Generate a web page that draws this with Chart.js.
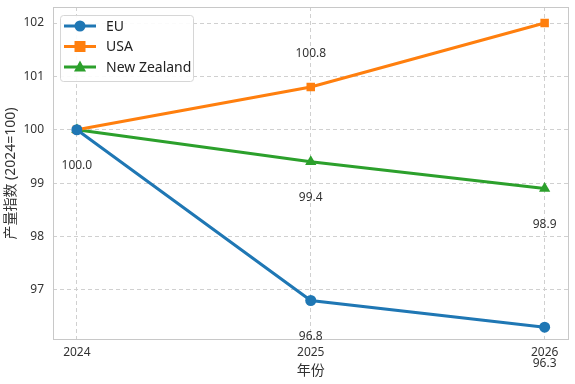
<!DOCTYPE html>
<html>
<head>
<meta charset="utf-8">
<script src="https://cdn.jsdelivr.net/npm/chart.js@4"></script>
<style>
  html, body { margin: 0; padding: 0; background: #ffffff; }
  #wrap { width: 575px; height: 384px; }
</style>
</head>
<body>
<div id="wrap"><canvas id="grafico" width="575" height="384"></canvas></div>
<script>
// datos
const years = [2024, 2025, 2026];
const euValues = [100.0, 96.8, 96.3];
const usaValues = [100.0, 100.8, 102.0];
const nzValues = [100.0, 99.4, 98.9];
const yTicks = [97, 98, 99, 100, 101, 102];

const FONT = "'Noto Sans', 'Noto Sans CJK SC', sans-serif";

function toPoints(vals) {
    return years.map((y, i) => ({ x: y, y: vals[i] }));
}

// etiquetas de valor: [serie, indice, arriba(-1)/abajo(+1)]
const valueLabels = [
    [0, 0, 1], [0, 1, 1], [0, 2, 1],
    [1, 1, -1],
    [2, 1, 1], [2, 2, 1]
];

const extras = {
    id: "extras",
    afterDraw(chart) {
        const ctx = chart.ctx;
        const a = chart.chartArea;
        const xs = chart.scales.x, ys = chart.scales.y;
        ctx.save();
        // marco
        ctx.strokeStyle = "#c8c8c8";
        ctx.lineWidth = 1;
        ctx.strokeRect(Math.round(a.left) + 0.5, Math.round(a.top) + 0.5,
            Math.round(a.right - a.left) - 1, Math.round(a.bottom - a.top) - 1);

        // etiquetas
        ctx.fillStyle = "#333333";
        ctx.font = "12px " + FONT;
        ctx.textAlign = "center";
        ctx.textBaseline = "middle";
        valueLabels.forEach(([d, i, dir]) => {
            const v = chart.data.datasets[d].data[i];
            const px = xs.getPixelForValue(v.x);
            const py = ys.getPixelForValue(v.y) + (dir > 0 ? 36 : -33);
            ctx.fillText(v.y.toFixed(1), px, py);
        });

        // leyenda
        const lx = a.left + 7, ly = a.top + 8, lw = 133, lh = 66;
        ctx.fillStyle = "rgba(255,255,255,0.9)";
        ctx.strokeStyle = "#d6d6d6";
        ctx.beginPath();
        ctx.roundRect(lx + 0.5, ly + 0.5, lw, lh, 3);
        ctx.fill();
        ctx.stroke();
        ctx.font = "14px " + FONT;
        ctx.textAlign = "left";
        chart.data.datasets.forEach((ds, k) => {
            const cy = ly + 11 + k * 20.5;
            const x0 = lx + 4, x1 = lx + 36;
            ctx.strokeStyle = ds.borderColor;
            ctx.lineWidth = 3;
            ctx.beginPath();
            ctx.moveTo(x0, cy);
            ctx.lineTo(x1, cy);
            ctx.stroke();
            ctx.fillStyle = ds.backgroundColor;
            const mx = (x0 + x1) / 2;
            ctx.beginPath();
            if (ds.pointStyle === "circle") {
                ctx.arc(mx, cy, 5.5, 0, Math.PI * 2);
            } else if (ds.pointStyle === "rect") {
                ctx.rect(mx - 5.5, cy - 5.5, 11, 11);
            } else {
                ctx.moveTo(mx, cy - 6.5);
                ctx.lineTo(mx + 6, cy + 4.5);
                ctx.lineTo(mx - 6, cy + 4.5);
                ctx.closePath();
            }
            ctx.fill();
            ctx.fillStyle = "#222222";
            ctx.fillText(ds.label, lx + 46, cy + 1);
        });
        ctx.restore();
    }
};

const config = {
    type: "line",
    data: {
        datasets: [
            {
                label: "EU",
                data: toPoints(euValues),
                borderColor: "#1f77b4",
                backgroundColor: "#1f77b4",
                pointStyle: "circle",
                pointRadius: 5.5
            },
            {
                label: "USA",
                data: toPoints(usaValues),
                borderColor: "#ff7f0e",
                backgroundColor: "#ff7f0e",
                pointStyle: "rect",
                pointRadius: 6
            },
            {
                label: "New Zealand",
                data: toPoints(nzValues),
                borderColor: "#2ca02c",
                backgroundColor: "#2ca02c",
                pointStyle: "triangle",
                pointRadius: 6.5
            }
        ]
    },
    options: {
        responsive: false,
        animation: false,
        layout: { padding: { left: 0, right: 4, top: 7, bottom: 0 } },
        elements: {
            line: { borderWidth: 3, tension: 0 },
            point: { borderWidth: 0, hoverRadius: 6 }
        },
        scales: {
            x: {
                type: "linear",
                min: 2023.898,
                max: 2026.102,
                afterBuildTicks: (s) => { s.ticks = years.map(v => ({ value: v })); },
                afterFit: (s) => { s.height = 44; s.paddingLeft = 0; s.paddingRight = 0; },
                grid: { color: "#d0d0d0", drawTicks: false },
                border: { display: false, dash: [4, 3] },
                ticks: {
                    padding: 5,
                    color: "#333333",
                    font: { family: FONT, size: 12 },
                    callback: (v) => String(v)
                },
                title: {
                    display: true,
                    text: "年份",
                    color: "#333333",
                    padding: { top: 0, bottom: 5 },
                    font: { family: FONT, size: 14 }
                }
            },
            y: {
                min: 96.06,
                max: 102.3,
                afterBuildTicks: (s) => { s.ticks = yTicks.map(v => ({ value: v })); },
                afterFit: (s) => { s.width = 53; s.paddingTop = 0; s.paddingBottom = 0; },
                grid: { color: "#d0d0d0", drawTicks: false },
                border: { display: false, dash: [4, 3] },
                ticks: {
                    padding: 9,
                    color: "#333333",
                    font: { family: FONT, size: 12 },
                    callback: (v) => String(v)
                },
                title: {
                    display: true,
                    text: "产量指数 (2024=100)",
                    color: "#333333",
                    padding: { top: 3, bottom: 0 },
                    font: { family: FONT, size: 14 }
                }
            }
        },
        plugins: {
            legend: { display: false },
            tooltip: { enabled: false }
        }
    },
    plugins: [extras]
};

new Chart(document.getElementById("grafico").getContext("2d"), config);
</script>
</body>
</html>
